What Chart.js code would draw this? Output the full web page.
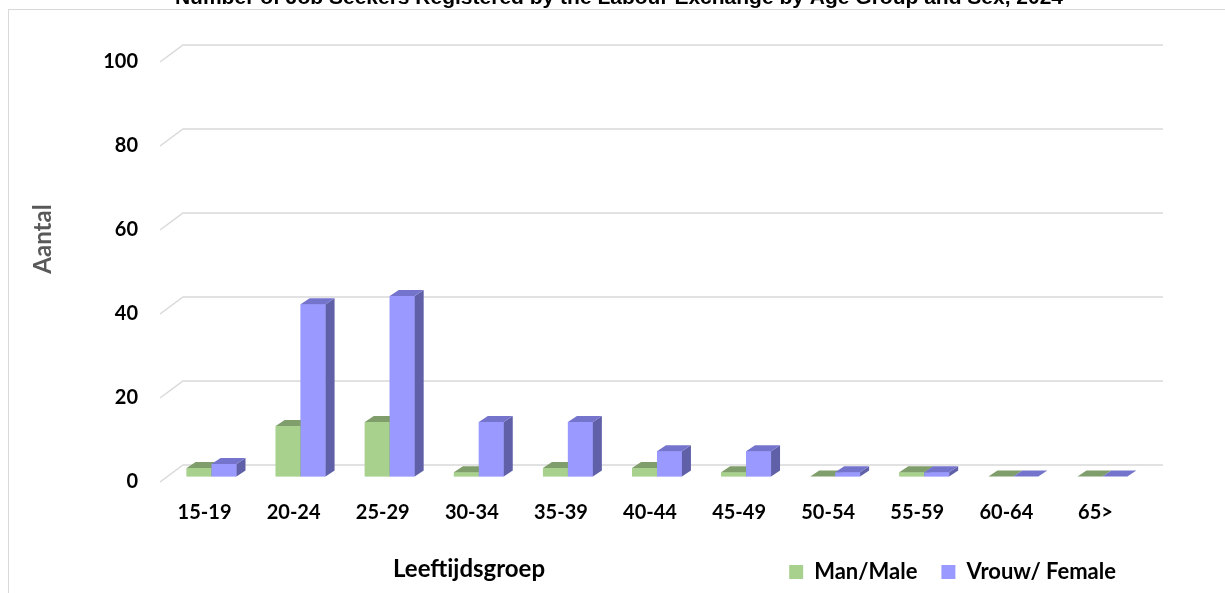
<!DOCTYPE html>
<html>
<head>
<meta charset="utf-8">
<title>Job seekers by age group and sex, 2024</title>
<script src="https://cdn.jsdelivr.net/npm/chart.js@4/dist/chart.umd.min.js"></script>
<style>
  html, body { margin: 0; padding: 0; background: #fff; }
  #wrap { width: 1225px; height: 593px; }
</style>
</head>
<body>
<div id="wrap"><canvas id="chart" width="1225" height="593"></canvas></div>
<script>
// ── Data ─────────────────────────────────────────────────────────────────────

const AGE_GROUPS = ['15-19', '20-24', '25-29', '30-34', '35-39', '40-44', '45-49', '50-54', '55-59', '60-64', '65>'];
const MALE       = [2, 12, 13, 1, 2, 2, 1, 0, 1, 0, 0];
const FEMALE     = [3, 41, 43, 13, 13, 6, 6, 1, 1, 0, 0];
const Y_TICKS    = [0, 20, 40, 60, 80, 100];

const TITLE   = 'Number of Job Seekers Registered by the Labour Exchange by Age Group and Sex, 2024';
const Y_TITLE = 'Aantal';
const X_TITLE = 'Leeftijdsgroep';

// ── 3D look ──────────────────────────────────────────────────────────────────

const FLOOR     = { dx: 23, dy: -17 };   // front edge of floor -> back wall
const BAR_SHIFT = { dx: 7,  dy: -5.5 };  // front edge of floor -> bar fronts
const BAR_DEPTH = { dx: 9,  dy: -6 };

const FACE_COLORS = [
  { front: '#a9d18e', top: '#7f9e6b', side: '#6b8759' },
  { front: '#9999ff', top: '#7474cc', side: '#6060a8' }
];

function drawFaces(ctx, el, c) {
  const { x, y, base, width } = el.getProps(['x', 'y', 'base', 'width'], true);
  const l = x - width / 2, r = x + width / 2;
  const { dx, dy } = BAR_DEPTH;
  ctx.fillStyle = c.side;
  ctx.beginPath();
  ctx.moveTo(r, y); ctx.lineTo(r + dx, y + dy); ctx.lineTo(r + dx, base + dy); ctx.lineTo(r, base);
  ctx.closePath(); ctx.fill();
  ctx.fillStyle = c.top;
  ctx.beginPath();
  ctx.moveTo(l, y); ctx.lineTo(l + dx, y + dy); ctx.lineTo(r + dx, y + dy); ctx.lineTo(r, y);
  ctx.closePath(); ctx.fill();
}

const frame3d = {
  id: 'frame3d',
  beforeDatasetsDraw(chart) {
    const { ctx, chartArea: a, scales: { y } } = chart;
    ctx.save();
    ctx.strokeStyle = '#d9d9d9';
    ctx.lineWidth = 1.5;
    y.ticks.forEach(t => {
      const py = y.getPixelForValue(t.value);
      ctx.beginPath();
      ctx.moveTo(a.left, py);
      ctx.lineTo(a.left + FLOOR.dx, py + FLOOR.dy);
      ctx.lineTo(a.right + FLOOR.dx, py + FLOOR.dy);
      ctx.stroke();
    });
    ctx.restore();
    ctx.save();
    ctx.translate(BAR_SHIFT.dx, BAR_SHIFT.dy);
  },
  afterDatasetsDraw(chart) {
    const { ctx } = chart;
    const metas = chart.data.datasets.map((_, i) => chart.getDatasetMeta(i));
    // left to right, so each front hides the side of the bar before it
    AGE_GROUPS.forEach((_, i) => {
      metas.forEach((meta, d) => {
        const el = meta.data[i];
        el.draw(ctx);
        drawFaces(ctx, el, FACE_COLORS[d]);
      });
    });
    ctx.restore();
  },
  afterDraw(chart) {
    const { ctx } = chart;
    ctx.save();
    ctx.strokeStyle = '#d9d9d9';
    ctx.lineWidth = 1;
    ctx.strokeRect(8.5, 9.5, 1400, 700);

    ctx.fillStyle = '#000';
    ctx.textAlign = 'center';
    ctx.textBaseline = 'alphabetic';
    ctx.font = 'bold 21px "Liberation Sans", Arial, sans-serif';
    ctx.fillText(TITLE, 619, 4);

    ctx.textBaseline = 'middle';
    ctx.font = 'bold 24px Lato, sans-serif';
    ctx.fillText(X_TITLE, 469, 569);

    ctx.translate(43, 239);
    ctx.rotate(-Math.PI / 2);
    ctx.fillStyle = '#595959';
    ctx.fillText(Y_TITLE, 0, 0);
    ctx.restore();
  }
};

// ── Chart ────────────────────────────────────────────────────────────────────

Chart.defaults.font.family = 'Lato, sans-serif';

const tickFont = { family: 'Lato, sans-serif', weight: 'bold', size: 20 };

new Chart(document.getElementById('chart'), {
  type: 'bar',
  data: {
    labels: AGE_GROUPS,
    datasets: [
      { label: 'Man/Male',      data: MALE,   backgroundColor: FACE_COLORS[0].front, borderWidth: 0 },
      { label: 'Vrouw/ Female', data: FEMALE, backgroundColor: FACE_COLORS[1].front, borderWidth: 0 }
    ]
  },
  options: {
    responsive: false,
    animation: false,
    devicePixelRatio: 1,
    categoryPercentage: 0.56,
    barPercentage: 1,
    layout: { padding: { left: 0, top: 62, right: 85, bottom: 0 } },
    plugins: {
      tooltip: { enabled: false },
      legend: {
        position: 'bottom',
        align: 'end',
        labels: {
          boxWidth: 14, boxHeight: 14, padding: 24, color: '#000',
          font: { family: 'Lato, sans-serif', weight: 'bold', size: 22 }
        }
      }
    },
    scales: {
      x: {
        grid: { display: false, drawTicks: false },
        border: { display: false },
        ticks: { font: tickFont, color: '#000', padding: 19, maxRotation: 0 },
        afterFit(scale) {
          const lg = scale.chart.legend;
          scale.height = 593 - 482 - (lg ? lg.height : 0);
        }
      },
      y: {
        min: 0, max: 100,
        grid: { display: false, drawTicks: false },
        border: { display: false },
        ticks: { font: tickFont, color: '#000', padding: 22 },
        afterBuildTicks(scale) { scale.ticks = Y_TICKS.map(v => ({ value: v })); },
        afterFit(scale) { scale.width = 160; }
      }
    }
  },
  plugins: [frame3d]
});
</script>
</body>
</html>
